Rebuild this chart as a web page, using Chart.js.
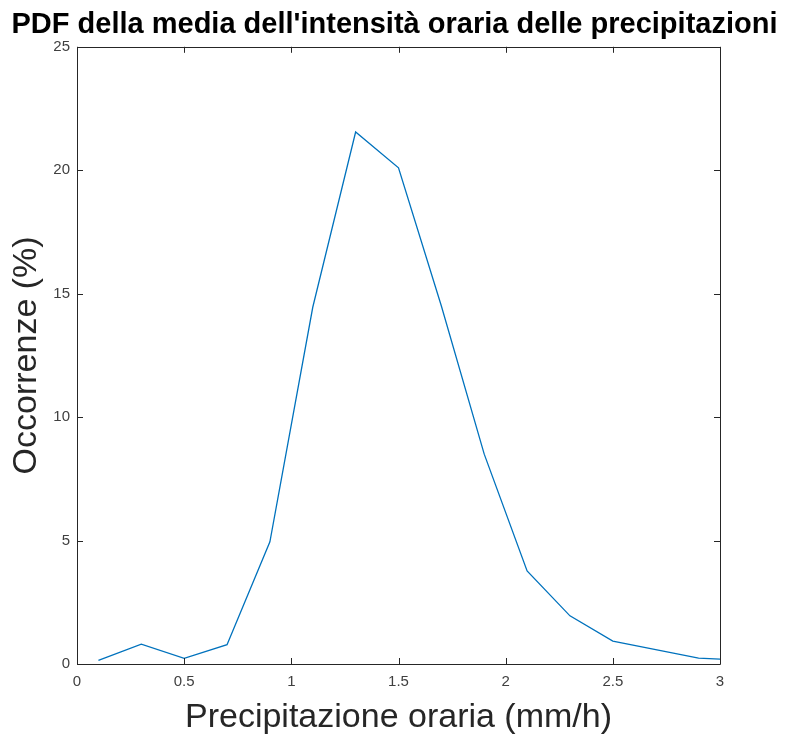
<!DOCTYPE html>
<html>
<head>
<meta charset="utf-8">
<script src="https://cdn.jsdelivr.net/npm/chart.js@4"></script>
<style>
  html, body { margin: 0; padding: 0; background: #fff; }
  #box { width: 789px; height: 738px; }
</style>
</head>
<body>
<div id="box"><canvas id="pdf"></canvas></div>
<script>
// dati
var intensita = [0.1, 0.3, 0.5, 0.7, 0.9, 1.1, 1.3, 1.5, 1.7, 1.9, 2.1, 2.3, 2.5, 2.7, 2.9, 3.1];
var occorrenze = [0.15, 0.8, 0.23, 0.78, 4.95, 14.45, 21.55, 20.1, 14.5, 8.5, 3.77, 1.95, 0.93, 0.58, 0.24, 0.15];
var xTicks = [0, 0.5, 1, 1.5, 2, 2.5, 3];
var yTicks = [0, 5, 10, 15, 20, 25];

var punti = intensita.map(function (x, i) { return { x: x, y: occorrenze[i] }; });

var axisColor = '#262626';
var font = "'Liberation Sans', Arial, Helvetica, sans-serif";

function setTicks(list) {
    return function (scale) {
        scale.ticks = list.map(function (v) { return { value: v }; });
    };
}

// cornice e tacche verso l'interno (stile MATLAB)
var boxPlugin = {
    id: 'boxPlugin',
    afterDraw: function (chart) {
        var c = chart.ctx, a = chart.chartArea;
        var sx = chart.scales.x, sy = chart.scales.y;
        var len = 6;
        c.save();
        c.strokeStyle = axisColor;
        c.lineWidth = 1;
        c.beginPath();
        c.rect(Math.round(a.left) + 0.5, Math.round(a.top) + 0.5, Math.round(a.right - a.left), Math.round(a.bottom - a.top));
        xTicks.forEach(function (v) {
            var px = Math.round(sx.getPixelForValue(v)) + 0.5;
            c.moveTo(px, a.bottom); c.lineTo(px, a.bottom - len);
            c.moveTo(px, a.top); c.lineTo(px, a.top + len);
        });
        yTicks.forEach(function (v) {
            var py = Math.round(sy.getPixelForValue(v)) + 0.5;
            c.moveTo(a.left, py); c.lineTo(a.left + len, py);
            c.moveTo(a.right, py); c.lineTo(a.right - len, py);
        });
        c.stroke();
        c.restore();
    }
};

var chart = new Chart(document.getElementById('pdf'), {
    type: 'line',
    data: {
        datasets: [{
            data: punti,
            borderColor: '#0072BD',
            borderWidth: 1.3,
            pointRadius: 0,
            tension: 0,
            fill: false
        }]
    },
    options: {
        responsive: true,
        maintainAspectRatio: false,
        animation: false,
        layout: { padding: 0 },
        plugins: {
            legend: { display: false },
            tooltip: { enabled: false },
            title: {
                display: true,
                text: "PDF della media dell'intensità oraria delle precipitazioni",
                color: '#000',
                font: { family: font, size: 29, weight: 'bold' },
                padding: { top: 8, bottom: 4 }
            }
        },
        scales: {
            x: {
                type: 'linear',
                min: 0,
                max: 3,
                afterBuildTicks: setTicks(xTicks),
                afterFit: function (s) { s.height = 74; },
                grid: { display: false, drawTicks: false },
                border: { display: false },
                ticks: {
                    padding: 9,
                    color: '#404040',
                    font: { family: font, size: 15 },
                    callback: function (v) { return String(v); }
                },
                title: {
                    display: true,
                    text: 'Precipitazione oraria (mm/h)',
                    color: '#262626',
                    font: { family: font, size: 34 },
                    padding: { top: 4, bottom: 0 }
                }
            },
            y: {
                min: 0,
                max: 25,
                afterBuildTicks: setTicks(yTicks),
                afterFit: function (s) { s.width = 77; },
                grid: { display: false, drawTicks: false },
                border: { display: false },
                ticks: {
                    padding: 7,
                    color: '#404040',
                    font: { family: font, size: 15 },
                    callback: function (v) { return String(v); }
                },
                title: {
                    display: true,
                    text: 'Occorrenze (%)',
                    color: '#262626',
                    font: { family: font, size: 34 },
                    padding: { top: 6, bottom: 4 }
                }
            },
            // asse destro vuoto: riserva solo il margine
            y2: {
                position: 'right',
                min: 0,
                max: 25,
                afterFit: function (s) { s.width = 69; },
                grid: { display: false, drawTicks: false },
                border: { display: false },
                ticks: { display: false }
            }
        }
    },
    plugins: [boxPlugin]
});
</script>
</body>
</html>
